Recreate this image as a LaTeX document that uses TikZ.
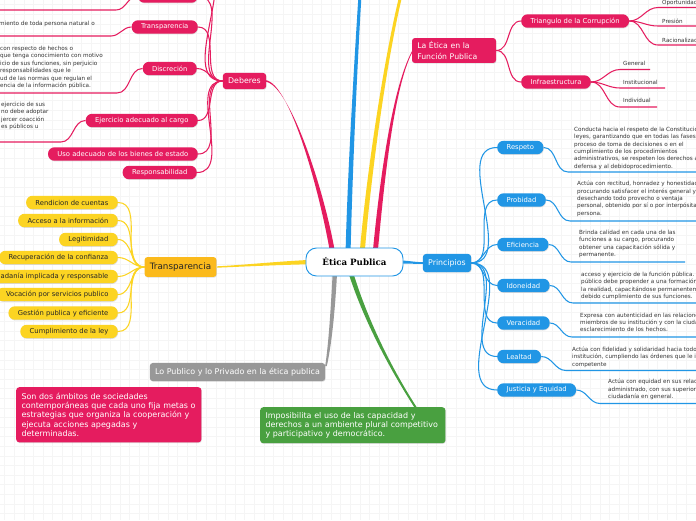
\documentclass[tikz,border=0pt]{standalone}
\usepackage{fontspec}
\setmainfont{DejaVu Sans}
\newfontfamily\cenfont{DejaVu Serif}
\usetikzlibrary{backgrounds,shadows}
\definecolor{mmpink}{RGB}{229,28,95}
\definecolor{mmblue}{RGB}{33,150,229}
\definecolor{mmyellow}{RGB}{252,212,34}
\definecolor{mmorange}{RGB}{251,186,28}
\definecolor{mmgray}{RGB}{152,152,152}
\definecolor{mmgreen}{RGB}{73,160,64}
\definecolor{txtgray}{RGB}{55,55,55}

\begin{document}
\begin{tikzpicture}[x=0.03cm,y=-0.03cm,
    mainbox/.style={rounded corners=2.5pt, inner xsep=4.5pt, inner ysep=0pt, text=white,
      font=\fontsize{6.7}{8}\selectfont,
      drop shadow={opacity=0.25, shadow xshift=0.4pt, shadow yshift=-0.6pt}},
    subbox/.style={rounded corners=5.5pt, inner xsep=8pt, inner ysep=0pt, minimum height=11.5pt,
      font=\fontsize{5.8}{7}\selectfont,
      drop shadow={opacity=0.25, shadow xshift=0.4pt, shadow yshift=-0.6pt}},
    desc/.style={anchor=north west, align=left, inner sep=0pt, text=txtgray,
      font=\fontsize{4.85}{6.3}\selectfont},
    leaf/.style={anchor=west, inner sep=0pt, text=txtgray, font=\fontsize{4.8}{6}\selectfont},
    link/.style={line width=0.9pt},
    gridline/.style={black!4, line width=0.6pt}]
    \useasboundingbox (0,0) rectangle (696,520);
    \clip (0,0) rectangle (696,520);
    \begin{scope}[on background layer]
    \clip (0,0) rectangle (696,520);
    \fill[white] (0,0) rectangle (696,520);
    \foreach \g in {4.8,14.4,...,700} {\draw[gridline] (\g,0) -- (\g,520);}
    \foreach \g in {4.8,14.4,...,520} {\draw[gridline] (0,\g) -- (696,\g);}
    \end{scope}

    \fill[mmblue] (345.5,255) .. controls (347.6,170) and (354.4,60) .. (358.5,-5) -- (361.5,-5) .. controls (357.6,60) and (352.4,170) .. (350.5,255) -- cycle;
    \fill[mmyellow] (359.5,255) .. controls (365.6,180) and (383.5,60) .. (399.5,-5) -- (402.5,-5) .. controls (386.5,60) and (370.4,180) .. (364.5,255) -- cycle;
    \fill[mmpink] (372.5,255) .. controls (378.6,190) and (391,90) .. (412,51.2) -- (412,52.8) .. controls (393,90) and (383.4,190) .. (377.5,255) -- cycle;
    \fill[mmpink] (330.5,255) .. controls (319.5,190) and (290,84.2) .. (266,80.2) -- (266,81.8) .. controls (290,85.8) and (324.5,190) .. (335.5,255) -- cycle;
    \fill[mmyellow] (312,259.8) .. controls (280,261.2) and (240,265.3) .. (217,266.3) -- (217,267.7) .. controls (240,266.7) and (280,264.8) .. (312,264.2) -- cycle;
    \fill[mmgray] (332.8,270) .. controls (330.8,310) and (328.4,345) .. (325.2,366) -- (326.8,366) .. controls (331.6,345) and (335.2,310) .. (337.2,270) -- cycle;
    \fill[mmgreen] (347.6,270) .. controls (359.7,310) and (383.8,360) .. (414.8,408) -- (417.2,408) .. controls (386.2,360) and (364.3,310) .. (352.4,270) -- cycle;
    \fill[mmblue] (395,260.2) .. controls (408,260.4) and (414,262.2) .. (424,262.2) -- (424,263.8) .. controls (414,263.8) and (408,263.6) .. (395,263.8) -- cycle;

    \node[draw=mmblue, line width=0.8pt, fill=white, rounded corners=9pt, minimum width=82.8pt, minimum height=23.9pt, font=\cenfont\bfseries\fontsize{7.4}{8}\selectfont] (etica) at (354.5,262) {Ética Publica};

    \node[mainbox, fill=mmpink, minimum height=13.7pt] (deb) at (244.5,81) {Deberes};
    \node[subbox, fill=mmpink, anchor=east, minimum width=51pt] (dtop) at (198,-4) {};
    \node[subbox, fill=mmpink, text=white, anchor=east] (dtra) at (198,27) {Transparencia};
    \node[subbox, fill=mmpink, text=white, anchor=east] (ddis) at (197,68.5) {Discreción};
    \node[subbox, fill=mmpink, text=white, anchor=east] (deje) at (198,120.5) {Ejercicio adecuado al cargo};
    \node[subbox, fill=mmpink, text=white, anchor=east] (duso) at (198,154) {Uso adecuado de los bienes de estado};
    \node[subbox, fill=mmpink, text=white, anchor=east] (dres) at (197,172.5) {Responsabilidad};
    \coordinate (dup) at (198,-40);
    \coordinate (dtopul) at (116,10);
    \coordinate (dtraul) at (111,36);
    \coordinate (ddisul) at (117,93);
    \coordinate (dejeul) at (61,142);
    \node[desc] (dtradesc) at (-1,20.5) {miento de toda persona natural o};
    \node[desc, font=\fontsize{4.85}{6.45}\selectfont] (ddisdesc) at (0,45.5) {con respecto de hechos o\\  que tenga conocimiento con motivo\\icio de sus funciones, sin perjuicio\\responsabilidades que le\\ud de las normas que regulan el\\encia de la información pública.};
    \node[desc, font=\fontsize{4.85}{6.45}\selectfont] (dejedesc) at (1,101.5) {ejercicio de sus\\no debe adoptar\\jercer coacción\\es públicos u};

    \node[mainbox, fill=mmorange, text=black!85, font=\fontsize{7.5}{9}\selectfont, minimum height=17pt] (trans) at (180.5,267) {Transparencia};
    \node[subbox, fill=mmyellow, text=black!85, anchor=east] (rend) at (118,202.5) {Rendicion de cuentas};
    \node[subbox, fill=mmyellow, text=black!85, anchor=east] (acce) at (118,220.5) {Acceso a la información};
    \node[subbox, fill=mmyellow, text=black!85, anchor=east] (legi) at (118,239.5) {Legitimidad};
    \node[subbox, fill=mmyellow, text=black!85, anchor=east] (recu) at (118,257.5) {Recuperación de la confianza};
    \node[subbox, fill=mmyellow, text=black!85, anchor=east] (ciud) at (118,276.5) {Ciudadanía implicada y responsable};
    \node[subbox, fill=mmyellow, text=black!85, anchor=east] (voca) at (118,294.5) {Vocación por servicios publico};
    \node[subbox, fill=mmyellow, text=black!85, anchor=east] (gest) at (118,313) {Gestión publica y eficiente};
    \node[subbox, fill=mmyellow, text=black!85, anchor=east] (cump) at (118,331.5) {Cumplimiento de la ley};

    \node[mainbox, fill=mmpink, text width=62.7pt, align=left, minimum height=21.3pt, font=\fontsize{6.6}{9.4}\selectfont] (etfp) at (454,50.5) {La Ética en la\\Función Publica};
    \node[subbox, fill=mmpink, text=white, anchor=west] (tria) at (521,21) {Triangulo de la Corrupción};
    \node[subbox, fill=mmpink, text=white, anchor=west] (infr) at (521,82) {Infraestructura};
    \node[leaf] (opor) at (662,3) {Oportunidad};
    \node[leaf] (pres) at (662,21) {Presión};
    \node[leaf] (raci) at (662,40) {Racionalización};
    \node[leaf] (gene) at (623,63) {General};
    \node[leaf] (inst) at (623,82) {Institucional};
    \node[leaf] (indi) at (623,100.5) {Individual};
    \coordinate (oporul) at (658,7.5);
    \coordinate (presul) at (658,26);
    \coordinate (raciul) at (658,45);
    \coordinate (geneul) at (620,69.5);
    \coordinate (instul) at (620,88);
    \coordinate (indiul) at (620,107);

    \node[mainbox, fill=mmblue, minimum height=15.4pt] (prin) at (447,263) {Principios};
    \node[subbox, fill=mmblue, text=white, anchor=west] (resp) at (497,147.5) {Respeto};
    \node[subbox, fill=mmblue, text=white, anchor=west] (prob) at (497,200) {Probidad};
    \node[subbox, fill=mmblue, text=white, anchor=west] (efic) at (497,244.5) {Eficiencia};
    \node[subbox, fill=mmblue, text=white, anchor=west] (idon) at (497,285.5) {Idoneidad};
    \node[subbox, fill=mmblue, text=white, anchor=west] (vera) at (497,323) {Veracidad};
    \node[subbox, fill=mmblue, text=white, anchor=west] (leal) at (497,356.5) {Lealtad};
    \node[subbox, fill=mmblue, text=white, anchor=west] (just) at (497,390) {Justicia y Equidad};
    \node[desc] (respdesc) at (574,126.5) {Conducta hacia el respeto de la Constitución y las\\leyes, garantizando que en todas las fases del\\proceso de toma de decisiones o en el\\cumplimiento de los procedimientos\\administrativos, se respeten los derechos a la\\defensa y al debidoprocedimiento.};
    \node[desc] (probdesc) at (577,181) {Actúa con rectitud, honradez y honestidad,\\procurando satisfacer el interés general y\\desechando todo provecho o ventaja\\personal, obtenido por sí o por interpósita\\persona.};
    \node[desc] (eficdesc) at (579,230) {Brinda calidad en cada una de las\\funciones a su cargo, procurando\\obtener una capacitación sólida y\\permanente.};
    \node[desc] (idondesc) at (581,271.5) {acceso y ejercicio de la función pública. El\\público debe propender a una formación sólida\\la  realidad, capacitándose permanentemente\\debido cumplimiento de sus funciones.};
    \node[desc] (veradesc) at (580,312.5) {Expresa con autenticidad en las  relaciones\\miembros de su institución y con la ciudadanía\\esclarecimiento de los hechos.};
    \node[desc] (lealdesc) at (572,346.5) {Actúa con fidelidad y solidaridad hacia todos los\\institución, cumpliendo las órdenes que le imparta\\competente};
    \node[desc] (justdesc) at (608,379) {Actúa con equidad en sus relaciones con el\\administrado, con sus superiores\\ciudadanía en general.};
    \coordinate (respul) at (568,172);
    \coordinate (probul) at (570,221);
    \coordinate (eficul) at (571,262);
    \coordinate (idonul) at (573,303);
    \coordinate (veraul) at (572,337);
    \coordinate (lealul) at (566,370.5);
    \coordinate (justul) at (600,403.5);

    \node[mainbox, fill=mmgray, minimum width=149.4pt, minimum height=15.4pt, font=\fontsize{6.8}{8}\selectfont] (lopp) at (237.5,372) {Lo Publico y lo Privado en la ética publica};
    \node[mainbox, fill=mmpink, anchor=north west, text width=149pt, align=left, minimum height=47pt, font=\fontsize{6.8}{7.9}\selectfont] (nota) at (16,387) {Son dos ámbitos de sociedades\\contemporáneas que cada uno fija metas o\\estrategias que organiza la cooperación y\\ejecuta acciones apegadas y\\determinadas.};
    \node[mainbox, fill=mmgreen, anchor=north west, text width=149pt, align=left, minimum height=30.7pt, font=\fontsize{6.8}{7.9}\selectfont] (impo) at (260,407) {Imposibilita el uso de las capacidad y\\derechos a un ambiente plural competitivo\\y participativo y democrático.};

    \begin{scope}[on background layer]
    \clip (0,0) rectangle (696,520);
    \draw[link, mmpink] (deb.west) to[out=180,in=0] (dup);
    \draw[link, mmpink] (deb.west) to[out=180,in=0] (dtop.east);
    \draw[link, mmpink] (deb.west) to[out=180,in=0] (dtra.east);
    \draw[link, mmpink] (deb.west) to[out=180,in=0] (ddis.east);
    \draw[link, mmpink] (deb.west) to[out=180,in=0] (deje.east);
    \draw[link, mmpink] (deb.west) to[out=180,in=0] (duso.east);
    \draw[link, mmpink] (deb.west) to[out=180,in=0] (dres.east);
    \draw[link, mmpink] (dtop.west) to[out=180,in=0] (dtopul) -- ++(-130,0);
    \draw[link, mmpink] (dtra.west) to[out=180,in=0] (dtraul) -- ++(-130,0);
    \draw[link, mmpink] (ddis.west) to[out=180,in=0] (ddisul) -- ++(-130,0);
    \draw[link, mmpink] (deje.west) to[out=180,in=0] (dejeul) -- ++(-80,0);
    \draw[link, mmyellow] (trans.west) to[out=180,in=0] (rend.east);
    \draw[link, mmyellow] (trans.west) to[out=180,in=0] (acce.east);
    \draw[link, mmyellow] (trans.west) to[out=180,in=0] (legi.east);
    \draw[link, mmyellow] (trans.west) to[out=180,in=0] (recu.east);
    \draw[link, mmyellow] (trans.west) to[out=180,in=0] (ciud.east);
    \draw[link, mmyellow] (trans.west) to[out=180,in=0] (voca.east);
    \draw[link, mmyellow] (trans.west) to[out=180,in=0] (gest.east);
    \draw[link, mmyellow] (trans.west) to[out=180,in=0] (cump.east);
    \draw[link, mmpink] (etfp.east) to[out=0,in=180] (tria.west);
    \draw[link, mmpink] (etfp.east) to[out=0,in=180] (infr.west);
    \draw[link, mmpink] (tria.east) to[out=0,in=180] (oporul) -- ++(50,0);
    \draw[link, mmpink] (tria.east) to[out=0,in=180] (presul) -- ++(50,0);
    \draw[link, mmpink] (tria.east) to[out=0,in=180] (raciul) -- ++(50,0);
    \draw[link, mmpink] (infr.east) to[out=0,in=180] (geneul) -- ++(30,0);
    \draw[link, mmpink] (infr.east) to[out=0,in=180] (instul) -- ++(45,0);
    \draw[link, mmpink] (infr.east) to[out=0,in=180] (indiul) -- ++(37,0);
    \draw[link, mmblue] (prin.east) to[out=0,in=180] (resp.west);
    \draw[link, mmblue] (prin.east) to[out=0,in=180] (prob.west);
    \draw[link, mmblue] (prin.east) to[out=0,in=180] (efic.west);
    \draw[link, mmblue] (prin.east) to[out=0,in=180] (idon.west);
    \draw[link, mmblue] (prin.east) to[out=0,in=180] (vera.west);
    \draw[link, mmblue] (prin.east) to[out=0,in=180] (leal.west);
    \draw[link, mmblue] (prin.east) to[out=0,in=180] (just.west);
    \draw[link, mmblue] (resp.east) to[out=0,in=180] (respul) -- ++(140,0);
    \draw[link, mmblue] (prob.east) to[out=0,in=180] (probul) -- ++(140,0);
    \draw[link, mmblue] (efic.east) to[out=0,in=180] (eficul) -- ++(114,0);
    \draw[link, mmblue] (idon.east) to[out=0,in=180] (idonul) -- ++(140,0);
    \draw[link, mmblue] (vera.east) to[out=0,in=180] (veraul) -- ++(140,0);
    \draw[link, mmblue] (leal.east) to[out=0,in=180] (lealul) -- ++(140,0);
    \draw[link, mmblue] (just.east) to[out=0,in=180] (justul) -- ++(140,0);
    \end{scope}
\end{tikzpicture}
\end{document}
